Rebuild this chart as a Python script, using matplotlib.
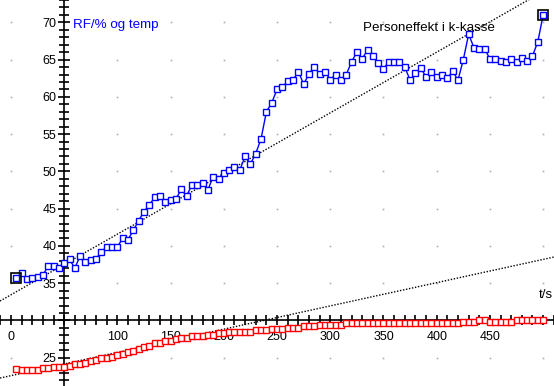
import matplotlib
matplotlib.use("Agg")
import matplotlib.pyplot as plt
from matplotlib.ticker import MultipleLocator, FuncFormatter
import numpy as np

t = np.arange(5, 505, 5)
rf = [35.75, 36.3, 35.6, 35.75, 35.85, 36.1, 37.3, 37.3, 37.1, 37.7,
      38.2, 37.0, 38.7, 37.85, 38.1, 38.3, 39.2, 39.9, 39.9, 39.9,
      41.0, 40.85, 42.1, 43.4, 44.6, 45.5, 46.5, 46.7, 45.9, 46.1,
      46.3, 47.6, 46.7, 48.2, 48.2, 48.5, 47.5, 49.3, 49.0, 49.8,
      50.2, 50.6, 50.2, 52.0, 51.0, 52.4, 54.4, 58.0, 59.2, 61.0,
      61.3, 62.1, 62.25, 63.4, 61.7, 63.1, 64.0, 63.1, 63.4, 62.3,
      63.0, 62.3, 63.0, 64.7, 66.0, 65.1, 66.3, 65.5, 64.5, 63.8,
      64.7, 64.7, 64.7, 64.0, 62.25, 63.15, 63.85, 62.7, 63.3, 62.7,
      62.95, 62.5, 63.45, 62.25, 65.0, 68.4, 66.6, 66.45, 66.45, 65.1,
      65.1, 64.85, 64.7, 65.1, 64.7, 65.2, 64.85, 65.5, 67.4, 71.0]
temp = [23.47, 23.3, 23.3, 23.4, 23.4, 23.55, 23.55, 23.7, 23.7, 23.8,
        23.95, 24.1, 24.2, 24.35, 24.5, 24.75, 24.9, 24.9, 25.15, 25.4,
        25.55, 25.8, 25.95, 26.2, 26.5, 26.6, 27.0, 27.0, 27.2, 27.3,
        27.45, 27.6, 27.7, 27.85, 27.85, 27.85, 28.0, 28.1, 28.25, 28.25,
        28.4, 28.4, 28.4, 28.5, 28.5, 28.65, 28.65, 28.65, 28.8, 28.8,
        28.9, 29.05, 29.05, 29.05, 29.2, 29.3, 29.3, 29.45, 29.45, 29.45,
        29.45, 29.45, 29.6, 29.6, 29.6, 29.6, 29.6, 29.6, 29.6, 29.6,
        29.6, 29.6, 29.6, 29.6, 29.6, 29.6, 29.6, 29.6, 29.6, 29.6,
        29.7, 29.7, 29.7, 29.7, 29.85, 29.85, 29.85, 30.0, 30.0, 29.85,
        29.85, 29.85, 29.85, 29.85, 30.0, 30.0, 30.0, 30.0, 30.0, 30.1]

# linear fits (slope, intercept)
rf_fit = (0.0814, 33.44)
temp_fit = (0.0312, 22.59)

fig = plt.figure(figsize=(5.54, 3.86), dpi=100)
ax = fig.add_axes([0, 0, 1, 1])
xmin, xmax = -10.3, 510.2
ax.set_xlim(xmin, xmax)
ax.set_ylim(21.2, 73.0)

# gray grid dots
gx, gy = np.meshgrid(np.arange(0, 550, 50), np.arange(25, 75, 5))
ax.plot(gx.ravel(), gy.ravel(), ls="none", marker="s", ms=1.2, mew=0, color="#b0b0b0", zorder=1)

# axes through (50, 30)
for s in ["top", "right"]:
    ax.spines[s].set_visible(False)
ax.spines["left"].set_position(("data", 50))
ax.spines["bottom"].set_position(("data", 30))
ax.spines["left"].set_linewidth(1.2)
ax.spines["bottom"].set_linewidth(1.2)

ax.xaxis.set_major_locator(MultipleLocator(50))
ax.xaxis.set_minor_locator(MultipleLocator(10))
ax.yaxis.set_major_locator(MultipleLocator(5))
ax.yaxis.set_minor_locator(MultipleLocator(1))
ax.xaxis.set_major_formatter(FuncFormatter(lambda v, p: "" if v in (50, 500) else "%d" % v))
ax.yaxis.set_major_formatter(FuncFormatter(lambda v, p: "" if v == 30 else "%d" % v))
ax.tick_params(which="both", direction="inout", width=1.2, labelsize=9)
ax.tick_params(axis="x", which="both", length=7, pad=4)
ax.tick_params(axis="y", which="major", length=9, pad=1)
ax.tick_params(axis="y", which="minor", length=7)
for lab in ax.get_xticklabels() + ax.get_yticklabels():
    lab.set_fontfamily("Liberation Sans")

# arrows at axis ends
ax.annotate("", xy=(50, 73.2), xytext=(50, 71.8),
            arrowprops=dict(arrowstyle="->", lw=1.2, color="black", mutation_scale=12))
ax.annotate("", xy=(xmax + 1, 30), xytext=(xmax - 10, 30),
            arrowprops=dict(arrowstyle="->", lw=1.2, color="black", mutation_scale=12))

# fit lines
xs = np.array([xmin, xmax])
ax.plot(xs, rf_fit[0] * xs + rf_fit[1], color="black", lw=1, ls=(0, (1, 1.2)), zorder=2)
ax.plot(xs, temp_fit[0] * xs + temp_fit[1], color="black", lw=1, ls=(0, (1, 1.2)), zorder=2)

# series
ax.plot(t, rf, color="blue", lw=1, marker="s", ms=3.8, mfc="white", mec="blue", mew=1, zorder=3)
ax.plot(t, temp, color="red", lw=1, marker="s", ms=3.8, mfc="white", mec="red", mew=1, zorder=3)

# end point boxes
ax.plot([t[0], t[-1]], [rf[0], rf[-1]], ls="none", marker="s", ms=7.5, mfc="none", mec="black", mew=1.2, zorder=4)

ax.text(58, 69.6, "RF/% og temp", color="blue", fontsize=9.6, family="Liberation Sans", va="center", ha="left")
ax.text(392.6, 69.2, "Personeffekt i k-kasse", color="black", fontsize=9.6, family="Liberation Sans", va="center", ha="center")
ax.text(509, 33.4, "t/s", color="black", fontsize=9.6, family="Liberation Sans", va="center", ha="right")

fig.savefig("out.png", dpi=100)
